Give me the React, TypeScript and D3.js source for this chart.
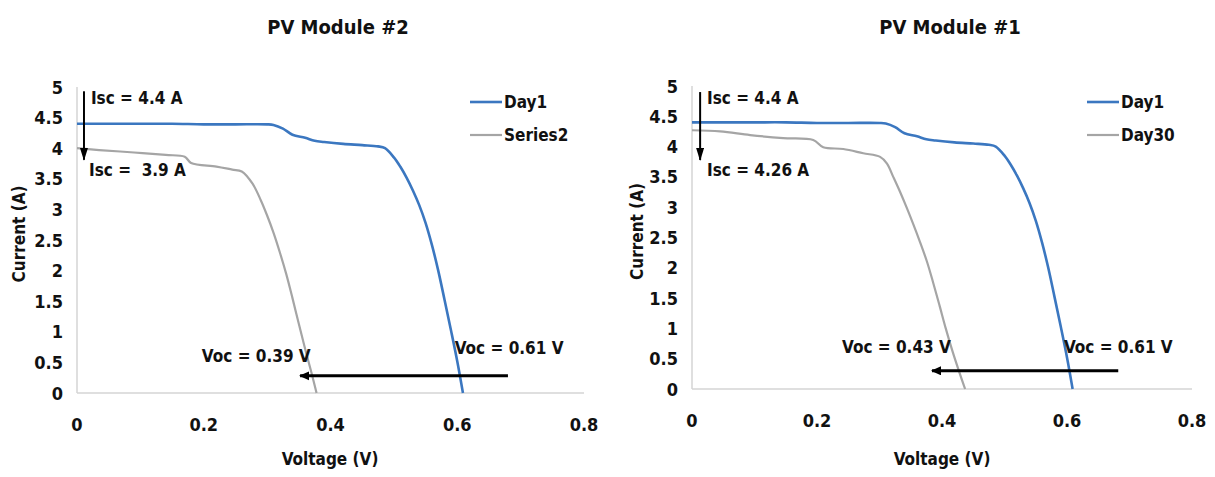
import React from 'react';
import * as d3 from 'd3';

// ---------- data ----------
const voltageTicks = [0, 0.2, 0.4, 0.6, 0.8];
const currentTicks = [0, 0.5, 1, 1.5, 2, 2.5, 3, 3.5, 4, 4.5, 5];

const day1Voltage = [0, 0.05, 0.1, 0.15, 0.2, 0.25, 0.3, 0.31, 0.325, 0.34, 0.36, 0.375, 0.39, 0.42, 0.45, 0.475, 0.486, 0.5, 0.51, 0.52, 0.53, 0.54, 0.55, 0.56, 0.57, 0.58, 0.59, 0.6, 0.609];
const day1Current = [4.4, 4.4, 4.4, 4.4, 4.39, 4.39, 4.39, 4.38, 4.32, 4.22, 4.17, 4.12, 4.1, 4.07, 4.05, 4.03, 4.0, 3.85, 3.7, 3.52, 3.31, 3.07, 2.78, 2.42, 2.0, 1.52, 1.03, 0.52, 0];

const module2Series2Voltage = [0, 0.035, 0.09, 0.14, 0.17, 0.18, 0.22, 0.245, 0.26, 0.277, 0.29, 0.3, 0.31, 0.32, 0.33, 0.34, 0.35, 0.36, 0.37, 0.378];
const module2Series2Current = [4.0, 3.97, 3.93, 3.89, 3.86, 3.76, 3.7, 3.65, 3.62, 3.42, 3.15, 2.9, 2.62, 2.3, 1.95, 1.55, 1.13, 0.72, 0.33, 0];

const module1Day30Voltage = [0, 0.045, 0.093, 0.146, 0.194, 0.21, 0.242, 0.274, 0.301, 0.312, 0.322, 0.333, 0.344, 0.354, 0.365, 0.376, 0.386, 0.396, 0.406, 0.416, 0.427, 0.437];
const module1Day30Current = [4.27, 4.25, 4.19, 4.14, 4.11, 3.99, 3.96, 3.89, 3.83, 3.72, 3.5, 3.25, 2.98, 2.72, 2.42, 2.1, 1.75, 1.38, 1.0, 0.65, 0.3, 0];

const panelTitles = ['PV Module #2', 'PV Module #1'];
const legendNames = [['Day1', 'Series2'], ['Day1', 'Day30']];
const iscLabels = [['Isc = 4.4 A', 'Isc =  3.9 A'], ['Isc = 4.4 A', 'Isc = 4.26 A']];
const vocLabels = [['Voc = 0.39 V', 'Voc = 0.61 V'], ['Voc = 0.43 V', 'Voc = 0.61 V']];

// ---------- styling ----------
const FONT = "'Liberation Sans Narrow','DejaVu Sans Condensed','Arial Narrow',sans-serif";
const BLUE = '#3b77c0';
const GREY = '#a5a5a5';
const AXIS = '#d4d4d4';
const TEXT = '#111';

type Pt = { v: number; i: number };
const zip = (vs: number[], is: number[]): Pt[] => vs.map((v, k) => ({ v, i: is[k] }));

type PanelCfg = {
  title: string;
  titleX: number;
  xRange: [number, number];
  yRange: [number, number];
  series: { pts: Pt[]; color: string; width: number }[];
  legend: string[];
  legendX: number;
  isc: string[];
  iscPos: { v: number; i: number }[];
  iscArrow: { v: number; i0: number; i1: number };
  voc: string[];
  vocPos: { v: number; i: number }[];
  vocArrow: { v0: number; v1: number; i: number };
  yTitleX: number;
  xTitleX: number;
};

const panels: PanelCfg[] = [
  {
    title: panelTitles[0],
    titleX: 338,
    xRange: [77, 584],
    yRange: [393, 87],
    series: [
      { pts: zip(day1Voltage, day1Current), color: BLUE, width: 2.6 },
      { pts: zip(module2Series2Voltage, module2Series2Current), color: GREY, width: 2.2 },
    ],
    legend: legendNames[0],
    legendX: 470,
    isc: iscLabels[0],
    iscPos: [{ v: 0.022, i: 4.82 }, { v: 0.019, i: 3.64 }],
    iscArrow: { v: 0.011, i0: 4.93, i1: 3.81 },
    voc: vocLabels[0],
    vocPos: [{ v: 0.197, i: 0.6 }, { v: 0.596, i: 0.735 }],
    vocArrow: { v0: 0.68, v1: 0.352, i: 0.28 },
    yTitleX: 19,
    xTitleX: 330,
  },
  {
    title: panelTitles[1],
    titleX: 950,
    xRange: [692, 1192],
    yRange: [389, 86],
    series: [
      { pts: zip(day1Voltage, day1Current), color: BLUE, width: 2.6 },
      { pts: zip(module1Day30Voltage, module1Day30Current), color: GREY, width: 2.2 },
    ],
    legend: legendNames[1],
    legendX: 1087,
    isc: iscLabels[1],
    iscPos: [{ v: 0.024, i: 4.8 }, { v: 0.024, i: 3.61 }],
    iscArrow: { v: 0.013, i0: 4.9, i1: 3.78 },
    voc: vocLabels[1],
    vocPos: [{ v: 0.24, i: 0.69 }, { v: 0.595, i: 0.69 }],
    vocArrow: { v0: 0.682, v1: 0.384, i: 0.3 },
    yTitleX: 637,
    xTitleX: 942,
  },
];

function Panel({ cfg, idx }: { cfg: PanelCfg; idx: number }) {
  const x = d3.scaleLinear().domain([0, 0.8]).range(cfg.xRange);
  const y = d3.scaleLinear().domain([0, 5]).range(cfg.yRange);
  const line = d3
    .line<Pt>()
    .x((d) => x(d.v))
    .y((d) => y(d.i))
    .curve(d3.curveCatmullRom.alpha(0.5));
  const [x0, x1] = cfg.xRange;
  const [yb, yt] = cfg.yRange;
  const midY = (yb + yt) / 2;
  return (
    <g fontFamily={FONT} fontWeight="bold" fill={TEXT}>
      <defs>
        <marker id={`arrowS${idx}`} viewBox="0 0 13 8" refX={12} refY={4} markerWidth={6.5} markerHeight={4} orient="auto" markerUnits="strokeWidth">
          <path d="M0,0 L13,4 L0,8 z" fill="#000" />
        </marker>
        <marker id={`arrowL${idx}`} viewBox="0 0 10 9" refX={9} refY={4.5} markerWidth={3.4} markerHeight={3.1} orient="auto" markerUnits="strokeWidth">
          <path d="M0,0 L10,4.5 L0,9 z" fill="#000" />
        </marker>
      </defs>
      <text x={cfg.titleX} y={27} fontSize={20} textAnchor="middle" dominantBaseline="central">
        {cfg.title}
      </text>
      {/* axes */}
      <line x1={x0} x2={x0} y1={yt} y2={yb} stroke={AXIS} strokeWidth={1.5} />
      <line x1={x0} x2={x1} y1={yb} y2={yb} stroke={AXIS} strokeWidth={1.5} />
      {currentTicks.map((t) => (
        <text key={'y' + t} x={x0 - 14} y={y(t)} fontSize={18} textAnchor="end" dominantBaseline="central">
          {String(t)}
        </text>
      ))}
      {voltageTicks.map((t) => (
        <text key={'x' + t} x={x(t)} y={yb + 31} fontSize={18} textAnchor="middle" dominantBaseline="central">
          {String(t)}
        </text>
      ))}
      <text
        transform={`translate(${cfg.yTitleX},${midY - 6}) rotate(-90)`}
        fontSize={17}
        textAnchor="middle"
        dominantBaseline="central"
      >
        Current (A)
      </text>
      <text x={cfg.xTitleX} y={459} fontSize={17} textAnchor="middle" dominantBaseline="central">
        Voltage (V)
      </text>
      {/* series */}
      {cfg.series.map((s, k) => (
        <path key={k} d={line(s.pts) || ''} fill="none" stroke={s.color} strokeWidth={s.width} strokeLinejoin="round" />
      ))}
      {/* legend */}
      {cfg.legend.map((name, k) => (
        <g key={name + k}>
          <line
            x1={cfg.legendX}
            x2={cfg.legendX + 32}
            y1={102 + k * 33}
            y2={102 + k * 33}
            stroke={cfg.series[k].color}
            strokeWidth={cfg.series[k].width}
          />
          <text x={cfg.legendX + 34} y={102 + k * 33} fontSize={17} dominantBaseline="central">
            {name}
          </text>
        </g>
      ))}
      {/* Isc annotation */}
      <line
        x1={x(cfg.iscArrow.v)}
        x2={x(cfg.iscArrow.v)}
        y1={y(cfg.iscArrow.i0)}
        y2={y(cfg.iscArrow.i1)}
        stroke="#000"
        strokeWidth={2}
        markerEnd={`url(#arrowS${idx})`}
      />
      {cfg.isc.map((t, k) => (
        <text
          key={'isc' + k}
          x={x(cfg.iscPos[k].v)}
          y={y(cfg.iscPos[k].i)}
          fontSize={17}
          dominantBaseline="central"
          style={{ whiteSpace: 'pre' }}
        >
          {t}
        </text>
      ))}
      {/* Voc annotation */}
      <line
        x1={x(cfg.vocArrow.v0)}
        x2={x(cfg.vocArrow.v1)}
        y1={y(cfg.vocArrow.i)}
        y2={y(cfg.vocArrow.i)}
        stroke="#000"
        strokeWidth={3}
        markerEnd={`url(#arrowL${idx})`}
      />
      {cfg.voc.map((t, k) => (
        <text
          key={'voc' + k}
          x={x(cfg.vocPos[k].v)}
          y={y(cfg.vocPos[k].i)}
          fontSize={17}
          dominantBaseline="central"
        >
          {t}
        </text>
      ))}
    </g>
  );
}

export default function App() {
  return (
    <svg
      width={1215}
      height={477}
      viewBox="0 0 1215 477"
      style={{ position: 'absolute', left: 0, top: 0, background: '#fff' }}
    >
      <rect width={1215} height={477} fill="#fff" />
      {panels.map((p, k) => (
        <Panel key={k} cfg={p} idx={k} />
      ))}
    </svg>
  );
}
